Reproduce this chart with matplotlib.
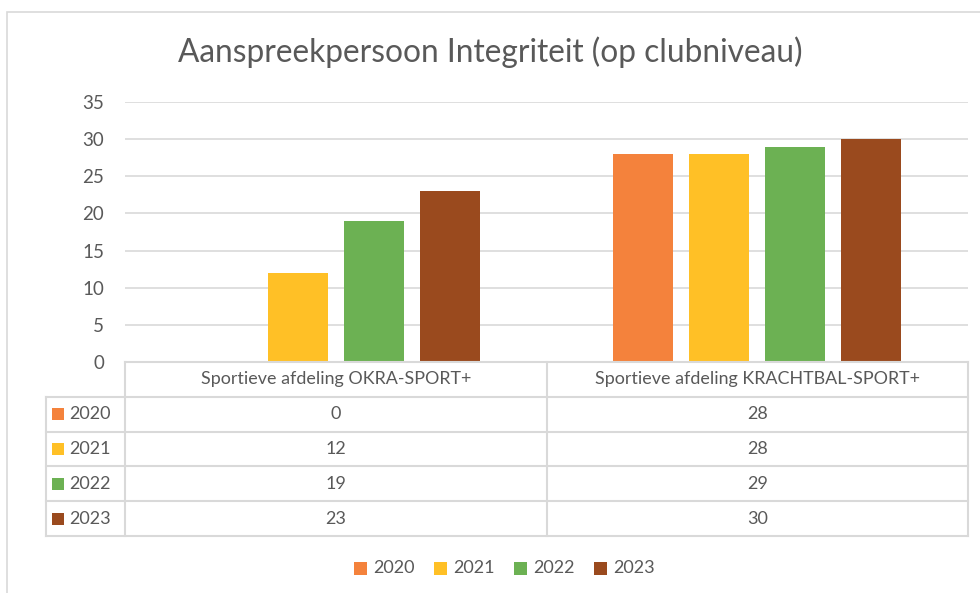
import matplotlib.pyplot as plt
from matplotlib.patches import Rectangle
import numpy as np

plt.rcParams['font.family'] = ['Lato', 'DejaVu Sans']

categories = ['Sportieve afdeling OKRA-SPORT+', 'Sportieve afdeling KRACHTBAL-SPORT+']
years = ['2020', '2021', '2022', '2023']
v2020 = [0, 28]
v2021 = [12, 28]
v2022 = [19, 29]
v2023 = [23, 30]
series = [v2020, v2021, v2022, v2023]
colors = ['#F4823C', '#FFC026', '#6CB153', '#9A4A1E']
text_col = '#595959'
line_col = '#D9D9D9'

W, H = 980, 593
fig = plt.figure(figsize=(W / 100, H / 100), dpi=100)

# outer chart border
fig.add_artist(Rectangle((7 / W, -0.1), 1.2, 1 - 12 / H + 0.1, transform=fig.transFigure,
                         fill=False, edgecolor=line_col, linewidth=1.2))

left, right, top, bottom = 125, 968, 102, 362
ax = fig.add_axes([left / W, 1 - bottom / H, (right - left) / W, (bottom - top) / H])

x = np.arange(len(categories))
width = 0.1425
pitch = 0.1805
for i, vals in enumerate(series):
    ax.bar(x + (i - 1.5) * pitch, vals, width, color=colors[i], zorder=3)

ax.set_xlim(-0.5, 1.5)
ax.set_ylim(0, 35)
ax.set_yticks(np.arange(0, 36, 5))
ax.grid(axis='y', color=line_col, linewidth=1.2, zorder=0)
ax.set_xticks([])
for s in ax.spines.values():
    s.set_visible(False)
ax.tick_params(axis='y', length=0, pad=15, labelsize=13.5, labelcolor=text_col)

fig.text(0.5, 1 - 52 / H, 'Aanspreekpersoon Integriteit (op clubniveau)',
         ha='center', va='center', fontsize=22.8, color=text_col)

# data table
row_h = 34.8
label_left = 46
col_edges = [left, (left + right) / 2, right]


def fx(px):
    return px / W


def fy(py):
    return 1 - py / H


def hline(y, x0, x1):
    fig.add_artist(plt.Line2D([fx(x0), fx(x1)], [fy(y), fy(y)], color=line_col, linewidth=1.5))


def vline(xp, y0, y1):
    fig.add_artist(plt.Line2D([fx(xp), fx(xp)], [fy(y0), fy(y1)], color=line_col, linewidth=1.5))


n_rows = len(years)
table_bottom = bottom + row_h * (n_rows + 1)
hline(bottom, left, right)
for r in range(n_rows + 1):
    hline(bottom + row_h * (r + 1), label_left, right)
vline(label_left, bottom + row_h, table_bottom)
for c in col_edges:
    vline(c, bottom, table_bottom)

for j, cat in enumerate(categories):
    cx = (col_edges[j] + col_edges[j + 1]) / 2
    fig.text(fx(cx), fy(bottom + row_h / 2), cat, ha='center', va='center',
             fontsize=12.9, color=text_col)

for r, (yr, vals) in enumerate(zip(years, series)):
    cy = bottom + row_h * (r + 1.5)
    fig.add_artist(Rectangle((fx(52), fy(cy + 6)), 12 / W, 12 / H, transform=fig.transFigure,
                             facecolor=colors[r], edgecolor='none'))
    fig.text(fx(69), fy(cy), yr, ha='left', va='center', fontsize=13, color=text_col)
    for j, v in enumerate(vals):
        cx = (col_edges[j] + col_edges[j + 1]) / 2
        fig.text(fx(cx), fy(cy), str(v), ha='center', va='center', fontsize=13, color=text_col)

# legend at bottom
leg_x = [354, 434, 514, 594]
for i, yr in enumerate(years):
    fig.add_artist(Rectangle((fx(leg_x[i]), fy(575)), 13 / W, 13 / H, transform=fig.transFigure,
                             facecolor=colors[i], edgecolor='none'))
    fig.text(fx(leg_x[i] + 19), fy(568), yr, ha='left', va='center', fontsize=13, color=text_col)

fig.savefig('out.png', dpi=100)
